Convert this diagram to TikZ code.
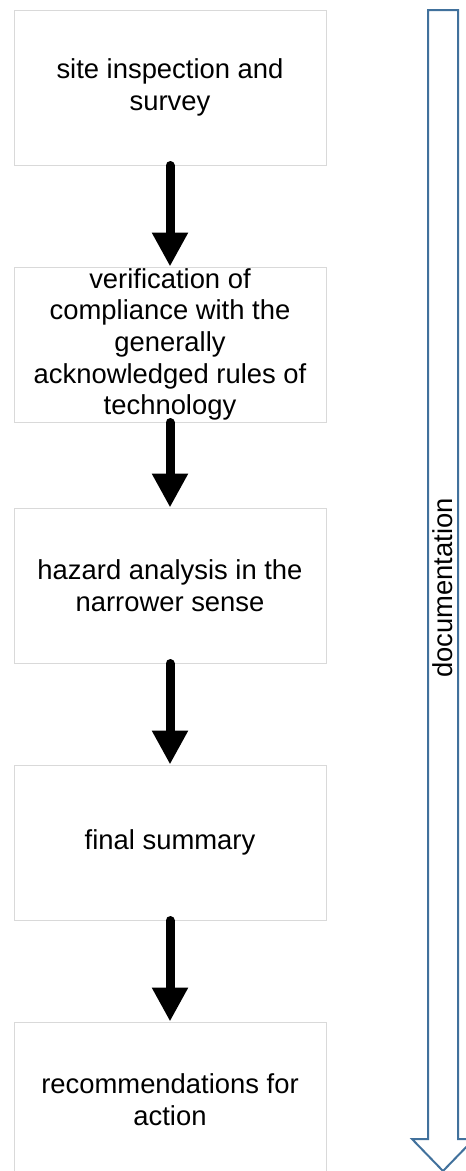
\documentclass[tikz,border=0pt]{standalone}
\usepackage{fontspec}
\setmainfont{Liberation Sans}
\usetikzlibrary{arrows.meta}
\definecolor{boxgray}{HTML}{D9D9D9}
\definecolor{docblue}{HTML}{41719C}
\tikzset{
  stepbox/.style={draw=boxgray, line width=1pt, fill=white, minimum width=312pt, minimum height=155pt, inner sep=0pt, align=center, font=\fontsize{27.4}{31.6}\selectfont},
  flowarrow/.style={line width=9pt, line cap=round, -{Triangle[length=34pt,width=34pt]}},
  docarrow/.style={draw=docblue, line width=2pt, line join=miter},
  doclabel/.style={rotate=90, inner sep=0pt, font=\fontsize{27.4}{31.6}\selectfont}
}
\begin{document}
\begin{tikzpicture}[x=1pt, y=-1pt]
\useasboundingbox (0,0) rectangle (466,1171);
% documentation arrow
\draw[docarrow] (428,10) -- (458,10) -- (458,1139) -- (474,1139) -- (443,1171) -- (412,1139) -- (428,1139) -- cycle;
\node[doclabel] (doc) at (443,588) {documentation};
% boxes
\node[stepbox] (b1) at (170,87.5) {site inspection and\\survey};
\node[stepbox] (b2) at (170,344.5) {verification of\\compliance with the\\generally\\acknowledged rules of\\technology};
\node[stepbox] (b3) at (170,585.5) {hazard analysis in the\\narrower sense};
\node[stepbox] (b4) at (170,842.5) {final summary};
\node[stepbox] (b5) at (170,1099.5) {recommendations for\\action};
% arrows
\draw[flowarrow] (b1.south) -- (b2.north);
\draw[flowarrow] (b2.south) -- (b3.north);
\draw[flowarrow] (b3.south) -- (b4.north);
\draw[flowarrow] (b4.south) -- (b5.north);
\end{tikzpicture}
\end{document}
